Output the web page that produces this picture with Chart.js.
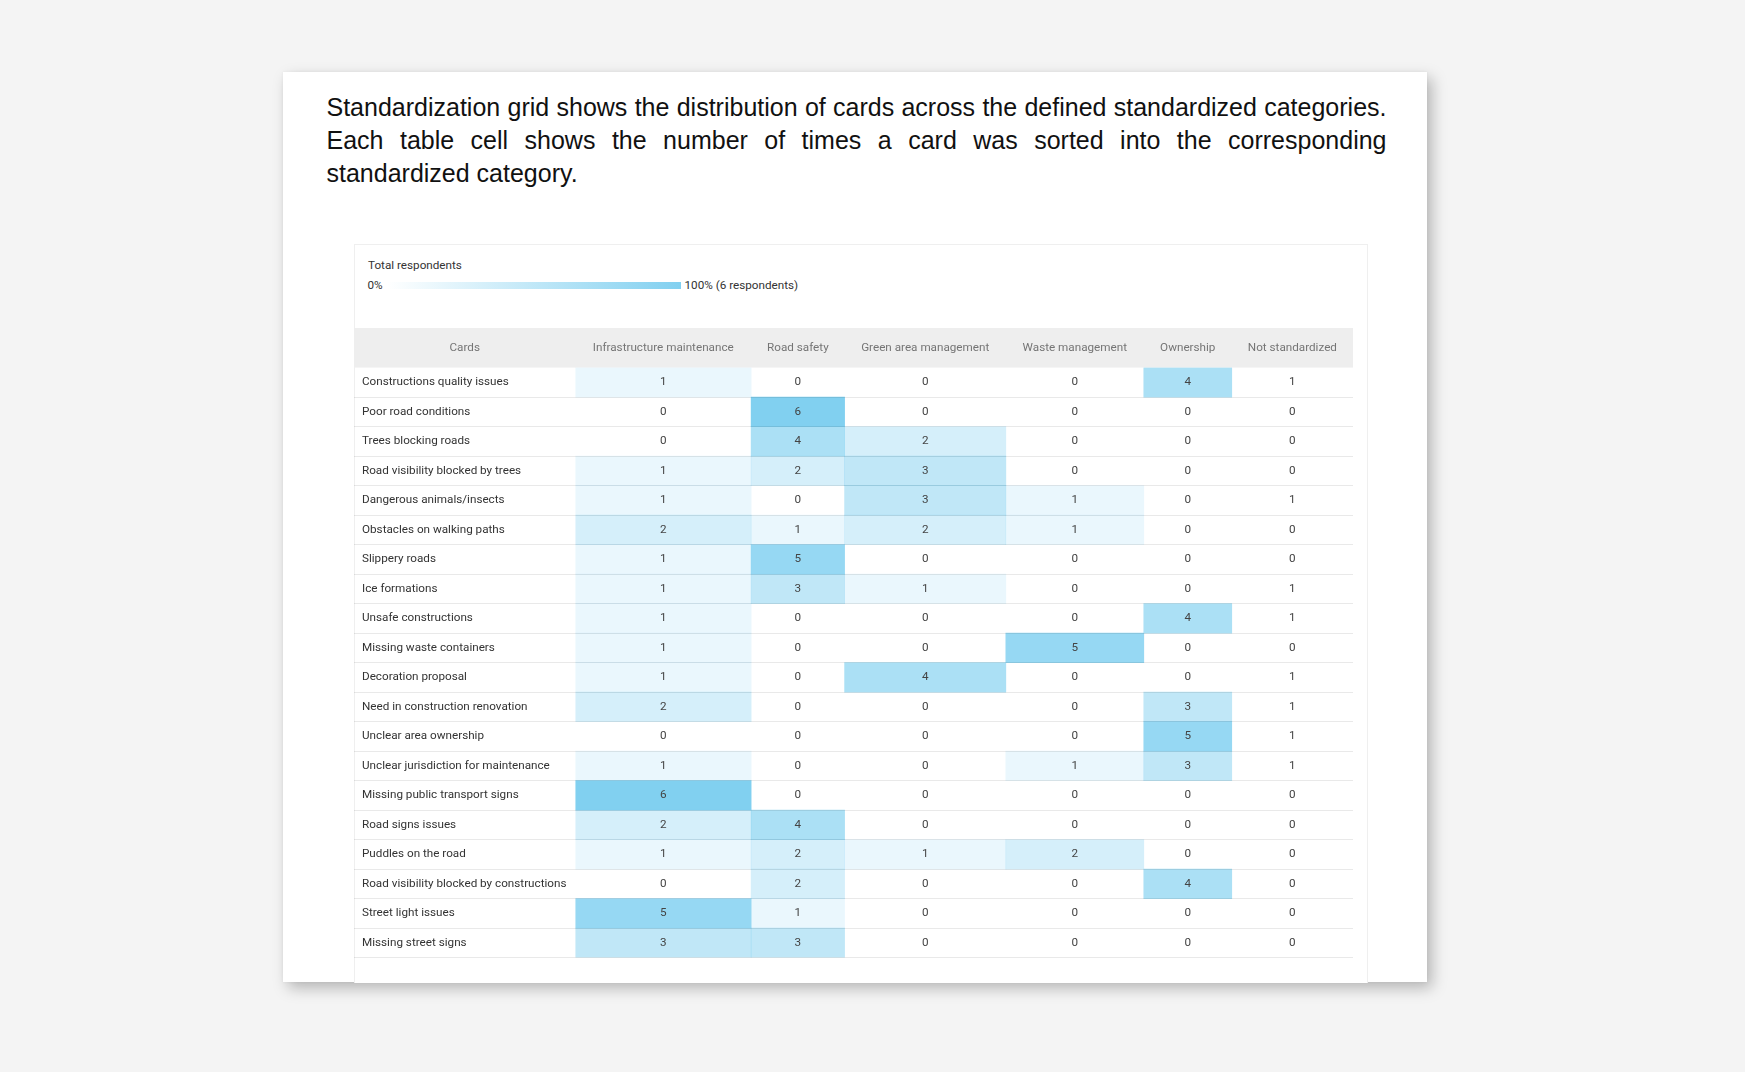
<!DOCTYPE html>
<html>
<head>
<meta charset="utf-8">
<script src="https://cdn.jsdelivr.net/npm/chart.js@4.4.1/dist/chart.umd.min.js"></script>
<style>
  html, body { margin: 0; padding: 0; }
  body { width: 1745px; height: 1072px; background: #f4f4f4; position: relative; overflow: hidden; }
  #card { position: absolute; left: 283px; top: 72px; width: 1144px; height: 910px; background: #fff;
          box-shadow: 5px 6px 14px rgba(0,0,0,0.26), 0 0 3px rgba(0,0,0,0.05); }
  #intro { position: absolute; left: 326.5px; top: 90.8px; width: 1060px; margin: 0;
           font-family: "Liberation Sans", Arial, Helvetica, sans-serif; font-size: 25px; line-height: 33px;
           color: #111; text-align: justify; }
  #panel { position: absolute; left: 354px; top: 244px; width: 1012px; height: 738px;
           border: 1px solid #efefef; border-bottom: none; background: #fff; }
  .lg { position: absolute; font-family: Roboto, sans-serif; font-size: 11.7px; color: #333; white-space: nowrap; }
  #gradbar { position: absolute; left: 387px; top: 281.5px; width: 294px; height: 7px;
             background: linear-gradient(to right, rgba(129,208,240,0), rgba(129,208,240,1)); }
  #chartBox { position: absolute; left: 354px; top: 327.7px; width: 999px; height: 654px; }
</style>
</head>
<body>
<div id="card"></div>
<p id="intro">Standardization grid shows the distribution of cards across the defined standardized categories. Each table cell shows the number of times a card was sorted into the corresponding standardized category.</p>
<div id="panel"></div>
<div class="lg" style="left:368px; top:258px;">Total respondents</div>
<div class="lg" style="left:367.5px; top:278px;">0%</div>
<div id="gradbar"></div>
<div class="lg" style="left:684.5px; top:278px;" id="maxLabel"></div>
<div id="chartBox"><canvas id="grid"></canvas></div>
<script>
// ---------- data ----------
const totalRespondents = 6;
const categories = ["Infrastructure maintenance", "Road safety", "Green area management",
                    "Waste management", "Ownership", "Not standardized"];
const cards = [
  "Constructions quality issues", "Poor road conditions", "Trees blocking roads",
  "Road visibility blocked by trees", "Dangerous animals/insects", "Obstacles on walking paths",
  "Slippery roads", "Ice formations", "Unsafe constructions", "Missing waste containers",
  "Decoration proposal", "Need in construction renovation", "Unclear area ownership",
  "Unclear jurisdiction for maintenance", "Missing public transport signs", "Road signs issues",
  "Puddles on the road", "Road visibility blocked by constructions", "Street light issues",
  "Missing street signs"
];
const infrastructure   = [1,0,0,1,1,2,1,1,1,1,1,2,0,1,6,2,1,0,5,3];
const roadSafety       = [0,6,4,2,0,1,5,3,0,0,0,0,0,0,0,4,2,2,1,3];
const greenArea        = [0,0,2,3,3,2,0,1,0,0,4,0,0,0,0,0,1,0,0,0];
const wasteManagement  = [0,0,0,0,1,1,0,0,0,5,0,0,0,1,0,0,2,0,0,0];
const ownership        = [4,0,0,0,0,0,0,0,4,0,0,3,5,3,0,0,0,4,0,0];
const notStandardized  = [1,0,0,0,1,0,0,1,1,0,1,1,1,1,0,0,0,0,0,0];
const seriesValues = [infrastructure, roadSafety, greenArea, wasteManagement, ownership, notStandardized];

// ---------- layout / style (not data) ----------
const COLUMN_WIDTHS = [175.8, 93.5, 161.3, 138, 88, 121.3];   // px widths of table columns
const SHADED = [true, true, true, true, true, false];          // "Not standardized" is not shaded
const CARDS_COL = 221.4, LABEL_INDENT = 8, HEADER_H = 39.6, ROW_H = 29.5, BOX_H = 654;
const FONT = { family: "Roboto", size: 11.7 };
const BASE_RGB = "129,208,240";

document.getElementById('maxLabel').textContent = `100% (${totalRespondents} respondents)`;

const colStarts = COLUMN_WIDTHS.map((w, i) => COLUMN_WIDTHS.slice(0, i).reduce((a, b) => a + b, 0));
const tableWidth = COLUMN_WIDTHS.reduce((a, b) => a + b, 0);

const datasets = categories.map((name, j) => ({
  label: name,
  data: cards.map(() => COLUMN_WIDTHS[j]),
  backgroundColor: ctx => {
    const v = seriesValues[j][ctx.dataIndex];
    return (SHADED[j] && v > 0) ? `rgba(${BASE_RGB},${v / totalRespondents})` : 'rgba(255,255,255,0)';
  },
  borderWidth: 0,
  borderSkipped: false,
  categoryPercentage: 1,
  barPercentage: 1
}));

const tablePlugin = {
  id: 'tableDecor',
  beforeDraw(chart) {
    const { ctx, scales: { x, y } } = chart;
    ctx.save();
    ctx.fillStyle = '#eeeeee';
    ctx.fillRect(0, x.top, chart.chartArea.right, x.bottom - x.top);
    ctx.fillStyle = '#757575';
    ctx.font = `${FONT.size}px ${FONT.family}`;
    ctx.textAlign = 'center';
    ctx.textBaseline = 'middle';
    ctx.fillText('Cards', y.right / 2, (x.top + x.bottom) / 2);
    ctx.restore();
  },
  afterDatasetsDraw(chart) {
    const { ctx, scales: { x, y } } = chart;
    ctx.save();
    ctx.fillStyle = '#444';
    ctx.font = `${FONT.size}px ${FONT.family}`;
    ctx.textAlign = 'center';
    ctx.textBaseline = 'middle';
    seriesValues.forEach((vals, j) => {
      const cx = x.getPixelForValue(colStarts[j] + COLUMN_WIDTHS[j] / 2);
      vals.forEach((v, i) => ctx.fillText(String(v), cx, y.getPixelForValue(i)));
    });
    ctx.restore();
  }
};

new Chart(document.getElementById('grid'), {
  type: 'bar',
  data: { labels: cards, datasets },
  options: {
    indexAxis: 'y',
    responsive: true,
    maintainAspectRatio: false,
    animation: false,
    events: [],
    layout: { padding: { left: LABEL_INDENT, right: 0, top: 0, bottom: BOX_H - HEADER_H - ROW_H * cards.length } },
    plugins: { legend: { display: false }, tooltip: { enabled: false } },
    scales: {
      x: {
        type: 'linear', position: 'top', stacked: true, min: 0, max: tableWidth,
        grid: { display: false, drawTicks: false }, border: { display: false },
        afterBuildTicks: s => { s.ticks = colStarts.map((st, j) => ({ value: st + COLUMN_WIDTHS[j] / 2 })); },
        afterFit: s => { s.height = HEADER_H; },
        ticks: {
          autoSkip: false, maxRotation: 0, minRotation: 0, padding: HEADER_H / 2 - FONT.size * 0.6,
          color: '#757575', font: FONT,
          callback: (v, i) => categories[i]
        }
      },
      y: {
        type: 'category', position: 'left', stacked: true, offset: true,
        afterFit: s => { s.width = CARDS_COL - LABEL_INDENT; },
        border: { display: false },
        grid: {
          offset: true, z: 1, drawTicks: true, tickLength: CARDS_COL, lineWidth: 1,
          color: c => c.index === 0 ? 'rgba(0,0,0,0)' : 'rgba(0,0,0,0.085)'
        },
        ticks: { autoSkip: false, crossAlign: 'far', color: '#333', font: FONT, padding: 0 }
      }
    }
  },
  plugins: [tablePlugin]
});
</script>
</body>
</html>
